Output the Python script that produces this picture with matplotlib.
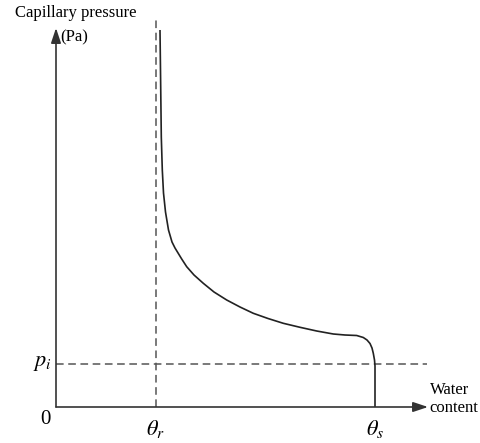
import matplotlib
matplotlib.use("Agg")
import matplotlib.pyplot as plt

# Conceptual data (arbitrary units)
theta_r = 1.0
theta_s = 3.19
p_i = 0.435
curve_theta = [1.04, 1.047, 1.053, 1.063, 1.075, 1.095, 1.125, 1.16, 1.19, 1.257,
               1.307, 1.38, 1.473, 1.58, 1.707, 1.84, 1.973, 2.12, 2.273, 2.44,
               2.607, 2.773, 2.89, 3.007, 3.073, 3.11, 3.14, 3.16, 3.173, 3.185,
               3.19, 3.19, 3.19]
curve_p = [3.77, 3.20, 2.70, 2.37, 2.14, 1.95, 1.77, 1.65, 1.59, 1.48,
           1.403, 1.32, 1.237, 1.15, 1.07, 1.00, 0.937, 0.885, 0.837, 0.797,
           0.76, 0.73, 0.72, 0.715, 0.695, 0.67, 0.635, 0.59, 0.537, 0.47,
           0.41, 0.27, 0.0]
x_axis_end = 3.72
y_axis_end = 3.79
theta_r_top = 3.89
p_i_end = 3.71

plt.rcParams['font.family'] = ['Liberation Serif', 'DejaVu Serif']
plt.rcParams['mathtext.fontset'] = 'stix'

fig = plt.figure(figsize=(4.81, 4.43), dpi=100)
ax = fig.add_axes([0, 0, 1, 1])
ax.set_xlim(-0.56, 4.25)
ax.set_ylim(-0.36, 4.07)
ax.axis('off')

axis_col = '#333333'
dash_col = '#555555'

# axes with arrows
ax.annotate('', xy=(x_axis_end, 0), xytext=(0, 0),
            arrowprops=dict(arrowstyle='-|>,head_length=0.9,head_width=0.3',
                            color=axis_col, lw=1.2, shrinkA=0, shrinkB=0))
ax.annotate('', xy=(0, y_axis_end), xytext=(0, 0),
            arrowprops=dict(arrowstyle='-|>,head_length=0.9,head_width=0.3',
                            color=axis_col, lw=1.2, shrinkA=0, shrinkB=0))

# dashed reference lines
ax.plot([theta_r, theta_r], [0, theta_r_top], ls=(0, (5, 3)), color=dash_col, lw=1.1)
ax.plot([0, p_i_end], [p_i, p_i], ls=(0, (5, 3)), color=dash_col, lw=1.1)

# curve
ax.plot(curve_theta, curve_p, color='#222222', lw=1.2,
        solid_capstyle='butt', solid_joinstyle='round')

# labels
ax.text(-0.41, 3.94, 'Capillary pressure', fontsize=12, ha='left', va='center')
ax.text(0.04, 3.70, '(Pa)', fontsize=12, ha='left', va='center')
ax.text(3.74, 0.17, 'Water', fontsize=12, ha='left', va='center')
ax.text(3.73, -0.01, 'content', fontsize=12, ha='left', va='center')
ax.text(-0.11, -0.13, '0', fontsize=15, ha='center', va='center')
ax.text(theta_r, -0.22, r'$\theta_r$', fontsize=16, ha='center', va='center')
ax.text(theta_s, -0.22, r'$\theta_s$', fontsize=16, ha='center', va='center')
ax.text(-0.14, p_i, r'$p_i$', fontsize=16, ha='center', va='center')

fig.savefig('out.png', dpi=100)
